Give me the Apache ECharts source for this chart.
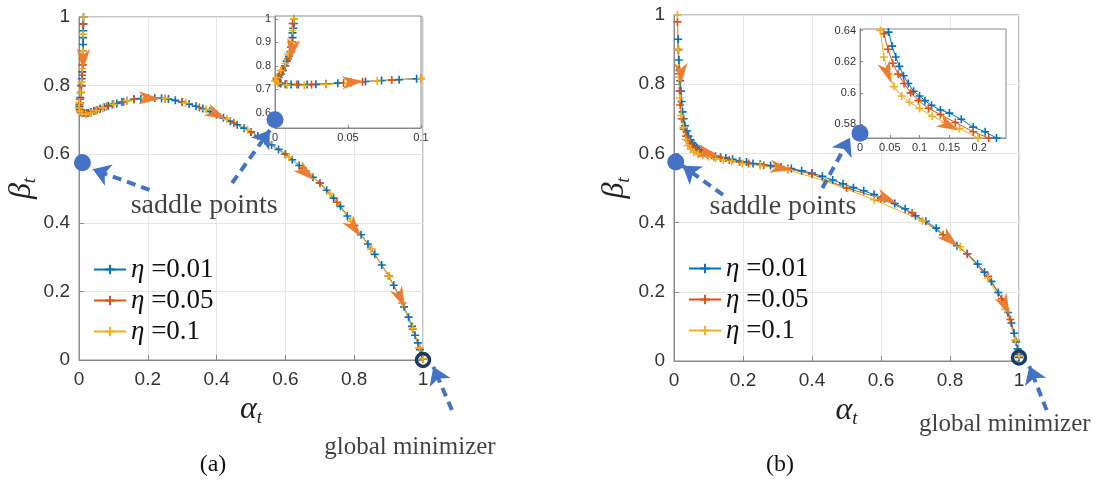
<!DOCTYPE html>
<html>
<head>
<meta charset="utf-8">
<script src="https://cdn.jsdelivr.net/npm/echarts@6/dist/echarts.min.js"></script>
<style>
  html, body { margin: 0; padding: 0; background: #fff; }
  #chart { width: 1105px; height: 483px; }
</style>
</head>
<body>
<div id="chart"></div>
<script>
// series names
const names = ["η =0.01", "η =0.05", "η =0.1"];

// (a) trajectories [alpha_t, beta_t]
const aBlue = [[0.013,1.0],[0.013,0.98],[0.0125,0.96],[0.012,0.94],[0.012,0.92],[0.0115,0.9],[0.011,0.88],[0.0105,0.86],[0.0095,0.84],[0.008,0.82],[0.007,0.8],[0.0055,0.78],[0.004,0.765],[0.0025,0.75],[0.0015,0.74],[0.002,0.73],[0.004,0.724],[0.007,0.721],[0.011,0.72],[0.016,0.72],[0.022,0.72],[0.028,0.721],[0.035,0.723],[0.043,0.726],[0.052,0.729],[0.062,0.733],[0.073,0.737],[0.085,0.741],[0.097,0.745],[0.11,0.748],[0.125,0.752],[0.14,0.756],[0.16,0.76],[0.18,0.762],[0.2,0.764],[0.22,0.764],[0.24,0.763],[0.26,0.761],[0.28,0.757],[0.3,0.752],[0.32,0.746],[0.34,0.74],[0.36,0.733],[0.38,0.725],[0.4,0.716],[0.42,0.706],[0.44,0.696],[0.46,0.686],[0.48,0.676],[0.5,0.665],[0.52,0.653],[0.54,0.64],[0.56,0.627],[0.58,0.614],[0.6,0.6],[0.62,0.584],[0.64,0.567],[0.66,0.55],[0.68,0.533],[0.7,0.516],[0.72,0.495],[0.74,0.472],[0.76,0.448],[0.78,0.42],[0.8,0.392],[0.82,0.365],[0.84,0.338],[0.86,0.308],[0.88,0.277],[0.9,0.245],[0.915,0.218],[0.93,0.188],[0.945,0.155],[0.958,0.125],[0.968,0.098],[0.977,0.072],[0.985,0.05],[0.991,0.03],[0.996,0.014],[1.0,0.003]];
const aRed = [[0.012,0.98],[0.012,0.9],[0.011,0.86],[0.009,0.83],[0.007,0.8],[0.005,0.78],[0.003,0.76],[0.001,0.745],[0.001,0.735],[0.003,0.727],[0.008,0.722],[0.015,0.72],[0.025,0.72],[0.035,0.722],[0.047,0.727],[0.06,0.732],[0.08,0.739],[0.1,0.746],[0.13,0.753],[0.16,0.76],[0.2,0.764],[0.25,0.762],[0.3,0.752],[0.35,0.736],[0.4,0.716],[0.45,0.691],[0.5,0.665],[0.55,0.633],[0.6,0.6],[0.65,0.558],[0.7,0.516],[0.75,0.46],[0.8,0.392],[0.85,0.323],[0.9,0.245],[0.94,0.166],[0.97,0.09],[0.99,0.035],[1.0,0.003]];
const aYellow = [[0.013,1.0],[0.012,0.95],[0.011,0.9],[0.009,0.85],[0.007,0.81],[0.004,0.78],[0.001,0.75],[0.0,0.735],[0.002,0.725],[0.008,0.718],[0.02,0.716],[0.035,0.72],[0.05,0.727],[0.07,0.735],[0.1,0.745],[0.14,0.756],[0.19,0.763],[0.25,0.763],[0.31,0.75],[0.37,0.73],[0.43,0.703],[0.49,0.671],[0.55,0.634],[0.61,0.592],[0.67,0.543],[0.73,0.485],[0.79,0.405],[0.85,0.323],[0.9,0.245],[0.94,0.166],[0.97,0.092],[0.99,0.035],[1.0,0.004]];

// (b) trajectories
const bBlue = [[0.012,0.93],[0.013,0.9],[0.014,0.87],[0.016,0.84],[0.018,0.81],[0.02,0.78],[0.022,0.75],[0.025,0.72],[0.028,0.7],[0.032,0.68],[0.037,0.665],[0.042,0.65],[0.048,0.639],[0.054,0.63],[0.06,0.623],[0.066,0.617],[0.073,0.611],[0.081,0.606],[0.09,0.601],[0.1,0.598],[0.109,0.595],[0.12,0.592],[0.135,0.589],[0.15,0.587],[0.17,0.583],[0.19,0.578],[0.21,0.575],[0.229,0.571],[0.25,0.569],[0.28,0.565],[0.31,0.561],[0.34,0.556],[0.37,0.55],[0.4,0.543],[0.43,0.534],[0.46,0.523],[0.49,0.512],[0.52,0.501],[0.55,0.492],[0.58,0.481],[0.61,0.469],[0.64,0.455],[0.67,0.44],[0.7,0.42],[0.73,0.404],[0.76,0.384],[0.79,0.356],[0.82,0.333],[0.85,0.31],[0.88,0.28],[0.9,0.257],[0.92,0.23],[0.94,0.198],[0.955,0.17],[0.968,0.14],[0.978,0.11],[0.986,0.08],[0.992,0.055],[0.996,0.035],[0.998,0.02],[1.0,0.01]];
const bRed = [[0.01,0.98],[0.012,0.9],[0.014,0.83],[0.016,0.78],[0.018,0.74],[0.022,0.7],[0.028,0.67],[0.035,0.65],[0.04,0.638],[0.047,0.628],[0.055,0.619],[0.064,0.612],[0.074,0.606],[0.085,0.6],[0.098,0.595],[0.115,0.59],[0.135,0.586],[0.16,0.581],[0.19,0.575],[0.216,0.571],[0.26,0.566],[0.33,0.556],[0.4,0.54],[0.5,0.5],[0.6,0.47],[0.69,0.428],[0.78,0.365],[0.85,0.31],[0.91,0.245],[0.95,0.18],[0.975,0.12],[0.99,0.06],[1.0,0.015]];
const bYellow = [[0.01,1.0],[0.012,0.9],[0.014,0.82],[0.017,0.76],[0.021,0.71],[0.027,0.675],[0.034,0.64],[0.04,0.623],[0.048,0.612],[0.057,0.604],[0.07,0.598],[0.083,0.594],[0.1,0.59],[0.121,0.585],[0.143,0.581],[0.167,0.577],[0.198,0.571],[0.25,0.565],[0.33,0.552],[0.44,0.52],[0.58,0.466],[0.72,0.405],[0.83,0.33],[0.91,0.24],[0.96,0.15],[0.99,0.06],[1.0,0.015]];

// saddle points and global minimizer
const saddleA = [[0.01, 0.575]];
const saddleAInset = [[0, 0.57]];
const saddleB = [[0.005, 0.575]];
const saddleBInset = [[0, 0.574]];
const minimizerA = [[1, 0]];
const minimizerB = [[1, 0.01]];

// direction arrows along the path [alpha, beta, angle in degrees]
const arrowsA = [[0.012,0.875,-92],[0.205,0.763,-2],[0.40,0.716,-26],[0.66,0.545,-40],[0.80,0.385,-54],[0.935,0.18,-65]];
const arrowsAInset = [[0.0116,0.867,-100],[0.0534,0.731,4]];
const arrowsB = [[0.02,0.83,-90],[0.1,0.6,-15],[0.31,0.558,-9],[0.617,0.468,-23],[0.80,0.35,-40],[0.96,0.16,-64]];
const arrowsBInset = [[0.046,0.613,-70],[0.149,0.579,-27]];

// dashed pointers [[from], [to]]
const pointersA = [[[0.205,0.496],[0.04,0.556]],[[0.445,0.516],[0.555,0.67]],[[1.084,-0.146],[1.03,-0.02]]];
const pointersB = [[[0.142,0.48],[0.025,0.564]],[[0.43,0.5],[0.51,0.645]],[[1.08,-0.142],[1.03,-0.015]]];

// text notes
const notesA = [{name: "saddle points", value: [0.364, 0.449]}, {name: "global minimizer", value: [0.962, -0.254]}];
const notesB = [{name: "saddle points", value: [0.316, 0.445]}, {name: "global minimizer", value: [0.959, -0.182]}];

// inset ticks
const insetAXTicks = [0, 0.05, 0.1];
const insetAYTicks = [0.6, 0.7, 0.8, 0.9, 1];
const insetBXTicks = [0, 0.05, 0.1, 0.15, 0.2];
const insetBYTicks = [0.58, 0.6, 0.62, 0.64];

const colors = ["#0072BD", "#D95319", "#EDB120"];
const plus = "path://M4,0H6V4H10V6H6V10H4V6H0V4H4Z";
const arrowHead = "path://M0,0L22,8.5L0,17L6,8.5Z";
const SANS = "Liberation Sans";
const SERIF = "Liberation Serif";

const chart = echarts.init(document.getElementById("chart"));

const mainAxis = (extra) => Object.assign({
  type: "value", min: 0, max: 1, interval: 0.2,
  axisLine: { show: true, lineStyle: { color: "#8a8a8a", width: 1 } },
  axisTick: { show: true, inside: true, length: 5, lineStyle: { color: "#8a8a8a" } },
  axisLabel: { fontFamily: SANS, fontSize: 19, color: "#333" },
  splitLine: { show: true, lineStyle: { color: "#e6e6e6" } },
  nameLocation: "middle",
  nameTextStyle: {
    fontFamily: SERIF, fontStyle: "italic", color: "#222",
    rich: {
      g: { fontFamily: SERIF, fontStyle: "italic", fontSize: 32, lineHeight: 36, color: "#222" },
      s: { fontFamily: SERIF, fontStyle: "italic", fontSize: 19, lineHeight: 19, verticalAlign: "bottom", color: "#222" }
    }
  }
}, extra);

const insetAxis = (min, max, ticks, extra) => Object.assign({
  type: "value", min, max, z: 4,
  axisLine: { show: true, lineStyle: { color: "#8a8a8a", width: 1 } },
  axisTick: { show: true, inside: true, length: 3, customValues: ticks, lineStyle: { color: "#8a8a8a" } },
  axisLabel: { fontFamily: SANS, fontSize: 11, color: "#333", margin: 4, customValues: ticks },
  splitLine: { show: false }
}, extra);

const traj = (name, data, color, idx, z) => ({
  type: "line", name, data, xAxisIndex: idx, yAxisIndex: idx, z,
  symbol: plus, symbolSize: 8, showSymbol: true,
  lineStyle: { color, width: 1 }, itemStyle: { color, opacity: 1 },
  emphasis: { disabled: true }
});

const arrowSeries = (list, idx, z) => ({
  type: "scatter", xAxisIndex: idx, yAxisIndex: idx, z,
  symbol: arrowHead, symbolSize: [22, 17], symbolKeepAspect: true,
  itemStyle: { color: "#ED7D31", opacity: 1 },
  emphasis: { disabled: true },
  data: list.map((a) => ({ value: [a[0], a[1]], symbolRotate: a[2] }))
});

const saddleSeries = (list, idx, z) => ({
  type: "scatter", xAxisIndex: idx, yAxisIndex: idx, z, clip: false,
  symbol: "circle", symbolSize: 17, itemStyle: { color: "#4472C4", opacity: 1 },
  emphasis: { disabled: true }, data: list
});

const ringSeries = (list, idx) => ({
  type: "scatter", xAxisIndex: idx, yAxisIndex: idx, z: 8, clip: false,
  symbol: "circle", symbolSize: 13,
  itemStyle: { color: "rgba(0,0,0,0)", borderColor: "#1F3864", borderWidth: 3.5, opacity: 1 },
  emphasis: { disabled: true }, data: list
});

const pointerSeries = (list, idx) => ({
  type: "lines", coordinateSystem: "cartesian2d", xAxisIndex: idx, yAxisIndex: idx, z: 9, clip: false,
  symbol: ["none", "arrow"], symbolSize: 17,
  lineStyle: { color: "#4472C4", width: 4, type: [9, 6], opacity: 1 },
  data: list.map((c) => ({ coords: c }))
});

const noteSeries = (list, idx) => ({
  type: "scatter", xAxisIndex: idx, yAxisIndex: idx, z: 9, clip: false,
  symbolSize: 1, itemStyle: { color: "rgba(0,0,0,0)" },
  label: {
    show: true, position: "inside", fontFamily: SERIF, color: "#111",
    formatter: (p) => p.name === "saddle points" ? "{s|" + p.name + "}" : "{g|" + p.name + "}",
    rich: {
      s: { fontFamily: SERIF, fontSize: 28, color: "#111" },
      g: { fontFamily: SERIF, fontSize: 25, color: "#111" }
    }
  },
  emphasis: { disabled: true },
  data: list
});

const legendFor = (left, top) => ({
  data: names, left, top, orient: "vertical", selectedMode: false,
  itemWidth: 32, itemHeight: 12, itemGap: 4,
  textStyle: {
    fontFamily: SERIF, fontSize: 27, color: "#111",
    rich: {
      e: { fontFamily: SERIF, fontStyle: "italic", fontSize: 27, color: "#111" },
      n: { fontFamily: SERIF, fontSize: 27, color: "#111" }
    }
  },
  formatter: (n) => "{e|η}{n|" + n.slice(1) + "}"
});

const gridBox = { show: true, borderColor: "#8a8a8a", borderWidth: 1, backgroundColor: "#fff", outerBoundsMode: "none", containLabel: false };

chart.setOption({
  animation: false,
  backgroundColor: "#fff",
  title: [
    { text: "(a)", left: 208, top: 448, textAlign: "center", textStyle: { fontFamily: SERIF, fontSize: 24, fontWeight: "normal", color: "#111" } },
    { text: "(b)", left: 775, top: 448, textAlign: "center", textStyle: { fontFamily: SERIF, fontSize: 24, fontWeight: "normal", color: "#111" } }
  ],
  legend: [legendFor(88, 251), legendFor(683, 250)],
  grid: [
    Object.assign({ left: 79, top: 17, width: 344, height: 343 }, gridBox),
    Object.assign({ left: 275, top: 16, width: 146, height: 112, z: 3 }, gridBox),
    Object.assign({ left: 674, top: 15, width: 345, height: 346 }, gridBox),
    Object.assign({ left: 860, top: 29, width: 146, height: 109, z: 3 }, gridBox)
  ],
  xAxis: [
    mainAxis({ gridIndex: 0, name: "{g|α}{s|t}", nameGap: 30, axisLabel: { fontFamily: SANS, fontSize: 19, color: "#333", margin: 10 } }),
    insetAxis(0, 0.1, insetAXTicks, { gridIndex: 1 }),
    mainAxis({ gridIndex: 2, name: "{g|α}{s|t}", nameGap: 30, axisLabel: { fontFamily: SANS, fontSize: 19, color: "#333", margin: 10 } }),
    insetAxis(0, 0.245, insetBXTicks, { gridIndex: 3 })
  ],
  yAxis: [
    mainAxis({ gridIndex: 0, name: "{g|β}{s|t}", nameGap: 35, nameRotate: 90, axisLabel: { fontFamily: SANS, fontSize: 19, color: "#333", margin: 9 } }),
    insetAxis(0.535, 1.012, insetAYTicks, { gridIndex: 1 }),
    mainAxis({ gridIndex: 2, name: "{g|β}{s|t}", nameGap: 41, nameRotate: 90, axisLabel: { fontFamily: SANS, fontSize: 19, color: "#333", margin: 9 } }),
    insetAxis(0.571, 0.641, insetBYTicks, { gridIndex: 3 })
  ],
  series: [
    traj(names[0], aBlue, colors[0], 0, 2),
    traj(names[1], aRed, colors[1], 0, 2),
    traj(names[2], aYellow, colors[2], 0, 2),
    traj(names[0], aBlue, colors[0], 1, 5),
    traj(names[1], aRed, colors[1], 1, 5),
    traj(names[2], aYellow, colors[2], 1, 5),
    traj(names[0], bBlue, colors[0], 2, 2),
    traj(names[1], bRed, colors[1], 2, 2),
    traj(names[2], bYellow, colors[2], 2, 2),
    traj(names[0], bBlue, colors[0], 3, 5),
    traj(names[1], bRed, colors[1], 3, 5),
    traj(names[2], bYellow, colors[2], 3, 5),
    arrowSeries(arrowsA, 0, 3),
    arrowSeries(arrowsAInset, 1, 6),
    arrowSeries(arrowsB, 2, 3),
    arrowSeries(arrowsBInset, 3, 6),
    saddleSeries(saddleA, 0, 7),
    saddleSeries(saddleAInset, 1, 7),
    saddleSeries(saddleB, 2, 7),
    saddleSeries(saddleBInset, 3, 7),
    ringSeries(minimizerA, 0),
    ringSeries(minimizerB, 2),
    pointerSeries(pointersA, 0),
    pointerSeries(pointersB, 2),
    noteSeries(notesA, 0),
    noteSeries(notesB, 2)
  ]
});
</script>
</body>
</html>
